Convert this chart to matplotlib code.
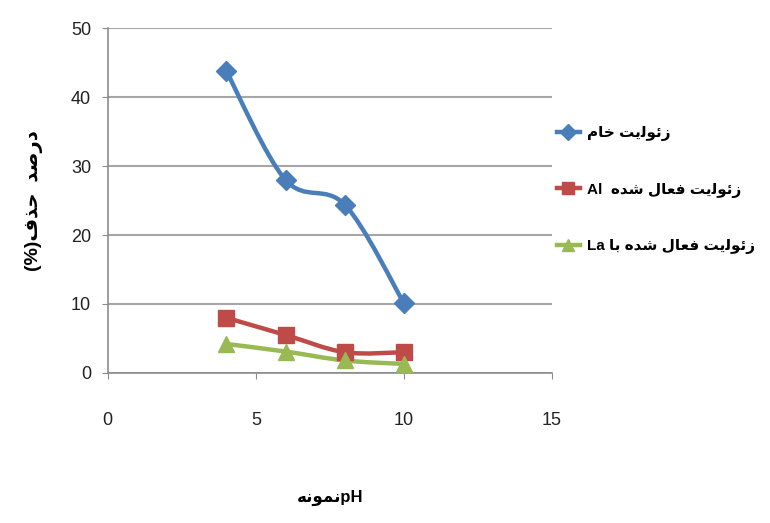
import numpy as np
import matplotlib
matplotlib.use("Agg")
import matplotlib.pyplot as plt
from matplotlib.path import Path
from matplotlib.patches import PathPatch

# data
ph = [4, 6, 8, 10]
raw_zeolite = [43.8, 28.0, 24.4, 10.1]
al_zeolite = [8.0, 5.5, 3.0, 3.0]
la_zeolite = [4.2, 3.1, 1.8, 1.3]

# Persian labels, pre-shaped (presentation forms) in visual left-to-right order
ZEOLITE = "\ufe96\ufbfe\ufedf\ufeee\ufe8b\ufeaf"          # زئولیت
KHAM = "\ufee1\ufe8e\ufea7"                                 # خام
FAAL = "\ufedd\ufe8e\ufecc\ufed3"                           # فعال
SHODE = "\ufee9\ufeaa\ufeb7"                                # شده
BA = "\ufe8e\ufe91"                                         # با
labels = [
    f"{KHAM} {ZEOLITE}",
    f"Al  {SHODE} {FAAL} {ZEOLITE}",
    f"La {BA} {SHODE} {FAAL} {ZEOLITE}",
]
ylabel = "(%)" + "\ufed1\ufeac\ufea3" + "  " + "\ufeaa\ufebb\ufead\ufea9"   # درصد حذف(%)
xlabel = "\ufeea\ufee7\ufeee\ufee4\ufee7" + "pH"                         # نمونه pH

colors = ["#4a7ebb", "#be4b48", "#98b954"]
markers = ["D", "s", "^"]
msizes = [10, 11, 11]
FONTS = ["Liberation Sans", "DejaVu Sans"]


def smooth_path(x, y, t=1 / 6):
    # Catmull-Rom style bezier path through the points (Excel "smoothed line")
    x = np.asarray(x, float); y = np.asarray(y, float)
    verts = [(x[0], y[0])]
    codes = [Path.MOVETO]
    n = len(x)
    for i in range(n - 1):
        p0 = (x[max(i - 1, 0)], y[max(i - 1, 0)])
        p1 = (x[i], y[i]); p2 = (x[i + 1], y[i + 1])
        p3 = (x[min(i + 2, n - 1)], y[min(i + 2, n - 1)])
        c1 = (p1[0] + (p2[0] - p0[0]) * t, p1[1] + (p2[1] - p0[1]) * t)
        c2 = (p2[0] - (p3[0] - p1[0]) * t, p2[1] - (p3[1] - p1[1]) * t)
        verts += [c1, c2, p2]
        codes += [Path.CURVE4] * 3
    return Path(verts, codes)


fig = plt.figure(figsize=(7.7, 5.23), dpi=100)
ax = fig.add_axes([0.140, 0.287, 0.577, 0.659])

for yv, c, m, ms, lab in zip([raw_zeolite, al_zeolite, la_zeolite], colors, markers, msizes, labels):
    ax.add_patch(PathPatch(smooth_path(ph, yv), fill=False, edgecolor=c, lw=3.2,
                           capstyle="round", joinstyle="round", zorder=3))
    ax.plot(ph, yv, ls="none", marker=m, ms=ms, color=c, mec=c, zorder=4)
    ax.plot([], [], color=c, lw=3.2, marker=m, ms=ms - 2, label=lab)

ax.set_xlim(0, 15)
ax.set_ylim(0, 50)
ax.set_xticks([0, 5, 10, 15])
ax.set_yticks([0, 10, 20, 30, 40, 50])
ax.grid(axis="y", color="#a6a6a6", lw=1.5)
ax.set_axisbelow(True)
for s in ["top", "right"]:
    ax.spines[s].set_visible(False)
for s in ["left", "bottom"]:
    ax.spines[s].set_color("#8c8c8c")
    ax.spines[s].set_linewidth(1.2)
ax.tick_params(colors="#8c8c8c", length=4, labelcolor="#222222", labelsize=13)
for tl in ax.get_xticklabels() + ax.get_yticklabels():
    tl.set_family(FONTS)
ax.tick_params(axis="x", pad=24)
ax.tick_params(axis="y", pad=8)

ax.set_xlabel(xlabel, family=FONTS, fontweight="bold", fontsize=12, labelpad=44)
ax.set_ylabel(ylabel, family=FONTS, fontweight="bold", fontsize=14, labelpad=20)

ax.legend(loc="upper left", bbox_to_anchor=(0.98, 0.755), frameon=False, handlelength=1.5,
          handletextpad=0.45, labelspacing=2.7,
          prop={"family": FONTS, "weight": "bold", "size": 11})

fig.savefig("out.png", dpi=100, facecolor="white")
